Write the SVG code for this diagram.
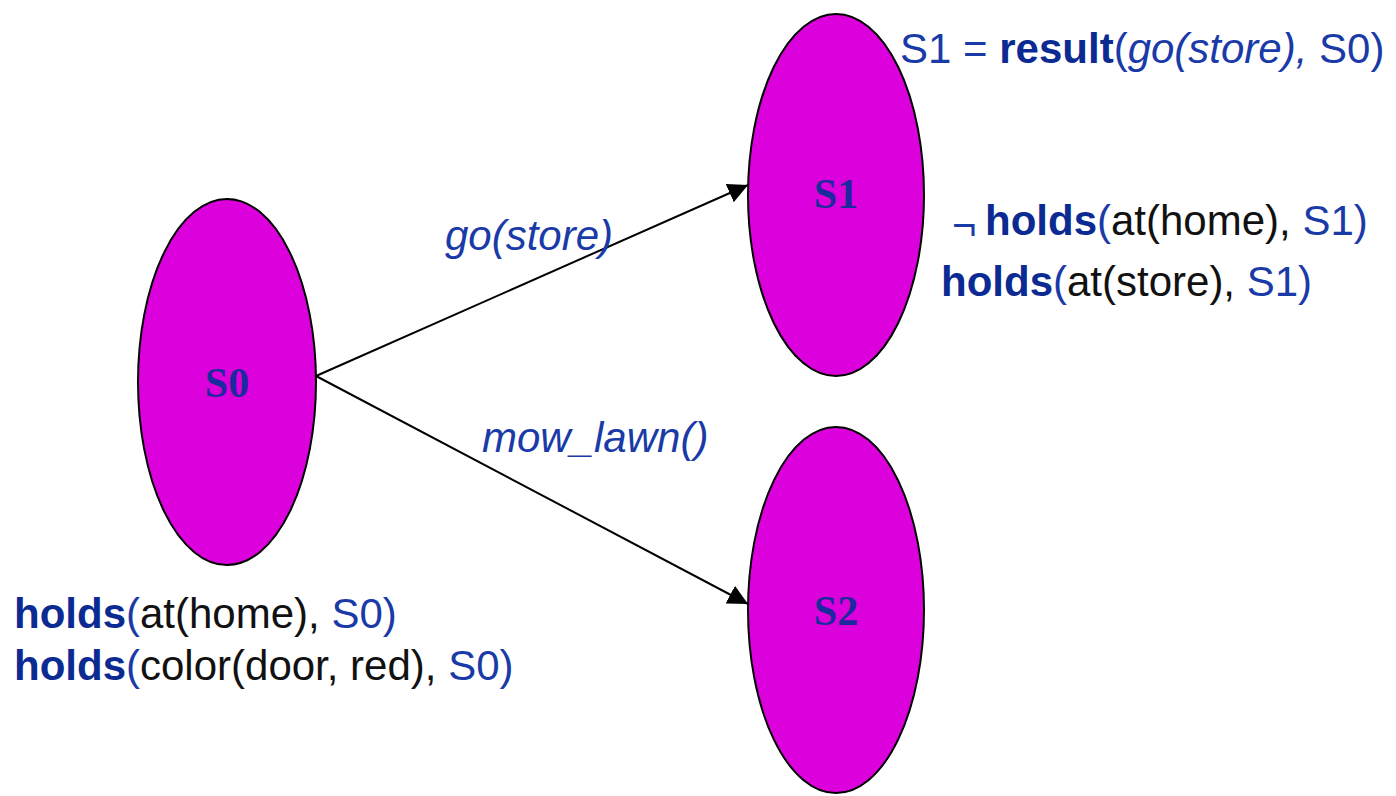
<svg xmlns="http://www.w3.org/2000/svg" width="1396" height="796" viewBox="0 0 1396 796">
  <style>
    .state { fill: #dc00dc; stroke: #000; stroke-width: 2; }
    .slabel { font-family: "Liberation Serif", serif; font-weight: bold; font-size: 42px; fill: #1b2a9c; text-anchor: middle; }
    .t { font-family: "Liberation Sans", Arial, sans-serif; font-size: 42px; fill: #111; }
    .b { font-weight: bold; fill: #0b2a92; }
    .blue { fill: #1a3aa8; }
    .it { font-style: italic; fill: #1a3aa8; }
    .edge { stroke: #000; stroke-width: 2; fill: none; marker-end: url(#arrow); }
  </style>
  <defs>
    <marker id="arrow" viewBox="0 0 20 20" refX="20" refY="10" markerWidth="20" markerHeight="20" markerUnits="userSpaceOnUse" orient="auto">
      <path d="M0,0 L20,10 L0,20 Z" fill="#000"/>
    </marker>
  </defs>
  <rect width="1396" height="796" fill="#fff"/>

  <g id="connectors">
    <line class="edge" x1="316" y1="376" x2="748" y2="185"/>
    <line class="edge" x1="316" y1="376" x2="748" y2="604"/>
    <text class="t it" x="445" y="250">go(store)</text>
    <text class="t it" x="482" y="452">mow_lawn()</text>
  </g>

  <g id="S0">
    <ellipse class="state" cx="227" cy="382" rx="89" ry="183"/>
    <text class="slabel" x="227" y="397">S0</text>
    <text class="t" x="14" y="628"><tspan class="b">holds</tspan><tspan class="blue">(</tspan>at(home), <tspan class="blue">S0)</tspan></text>
    <text class="t" x="14" y="680"><tspan class="b">holds</tspan><tspan class="blue">(</tspan>color(door, red), <tspan class="blue">S0)</tspan></text>
  </g>

  <g id="S1">
    <ellipse class="state" cx="836" cy="195" rx="88" ry="181"/>
    <text class="slabel" x="836" y="208">S1</text>
    <text class="t blue" x="900" y="63">S1 = <tspan class="b">result</tspan>(<tspan class="it">go(store),</tspan> S0)</text>
    <text class="t blue" x="952" y="240" font-size="36">¬</text>
    <text class="t" x="985" y="235"><tspan class="b">holds</tspan><tspan class="blue">(</tspan>at(home), <tspan class="blue">S1)</tspan></text>
    <text class="t" x="941" y="296"><tspan class="b">holds</tspan><tspan class="blue">(</tspan>at(store), <tspan class="blue">S1)</tspan></text>
  </g>

  <g id="S2">
    <ellipse class="state" cx="836" cy="610" rx="88" ry="183"/>
    <text class="slabel" x="836" y="625">S2</text>
  </g>
</svg>
